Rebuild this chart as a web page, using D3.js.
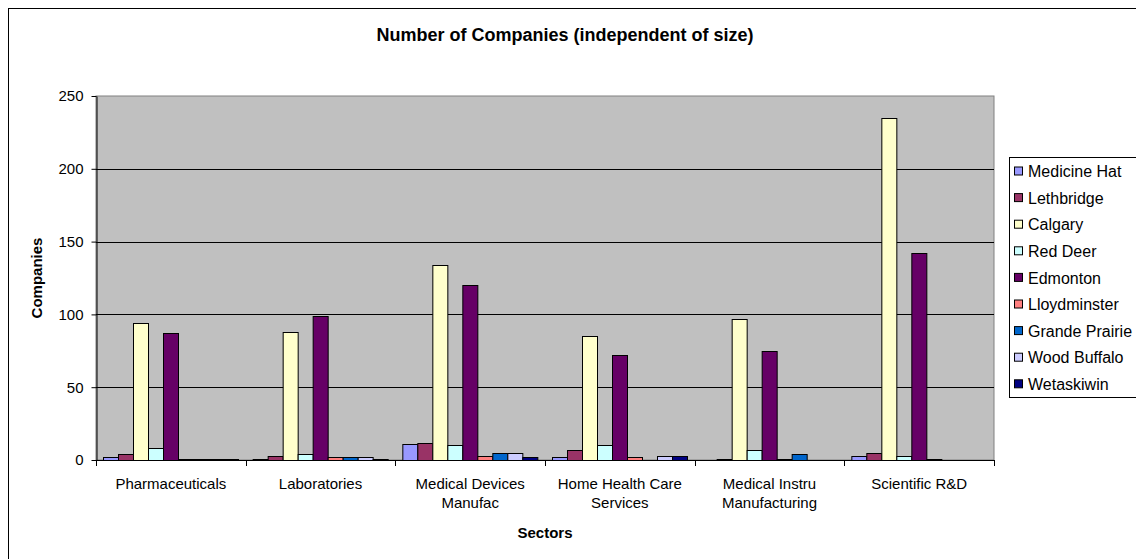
<!DOCTYPE html>
<html>
<head>
<meta charset="utf-8">
<script src="https://cdn.jsdelivr.net/npm/d3@7"></script>
<style>
  body { margin: 0; background: #fff; }
  svg { display: block; font-family: "Liberation Sans", Arial, sans-serif; }
</style>
</head>
<body>
<svg id="chart" width="1136" height="559"></svg>
<script>
// sectors on the x axis (second line after the \n)
const sectors = [
  'Pharmaceuticals',
  'Laboratories',
  'Medical Devices\nManufac',
  'Home Health Care\nServices',
  'Medical Instru\nManufacturing',
  'Scientific R&D'
];

const cities = [
  'Medicine Hat', 'Lethbridge', 'Calgary', 'Red Deer', 'Edmonton',
  'Lloydminster', 'Grande Prairie', 'Wood Buffalo', 'Wetaskiwin'
];

// companies per city, one value per sector
const medicineHat   = [2, 1, 11, 2, 0, 3];
const lethbridge    = [4, 3, 12, 7, 1, 5];
const calgary       = [94, 88, 134, 85, 97, 235];
const redDeer       = [8, 4, 10, 10, 7, 3];
const edmonton      = [87, 99, 120, 72, 75, 142];
const lloydminster  = [1, 2, 3, 2, 1, 1];
const grandePrairie = [1, 2, 5, 0, 4, 0];
const woodBuffalo   = [1, 2, 5, 3, 0, 0];
const wetaskiwin    = [1, 1, 2, 3, 0, 0];

const yTicks = [0, 50, 100, 150, 200, 250];

const seriesValues = [medicineHat, lethbridge, calgary, redDeer, edmonton,
  lloydminster, grandePrairie, woodBuffalo, wetaskiwin];

const colors = ['#9999FF', '#993366', '#FFFFCC', '#CCFFFF', '#660066',
  '#FF8080', '#0066CC', '#CCCCFF', '#000080'];

const svg = d3.select('#chart');
const plot = { left: 96, top: 96, right: 994, bottom: 460 };

// outer chart frame (runs off the picture on the right and bottom)
svg.append('rect')
  .attr('x', 8.5).attr('y', 8.5)
  .attr('width', 1160).attr('height', 600)
  .attr('fill', '#fff').attr('stroke', '#000');

const x0 = d3.scaleBand()
  .domain(sectors)
  .range([plot.left, plot.right])
  .paddingInner(0).paddingOuter(0);

// 100% gap width: half a bar of space on each side of a group
const x1 = d3.scaleBand()
  .domain(cities)
  .range([0, x0.bandwidth()])
  .paddingInner(0).paddingOuter(0.5);

const y = d3.scaleLinear()
  .domain([0, 250])
  .range([plot.bottom, plot.top]);

const color = d3.scaleOrdinal().domain(cities).range(colors);

// plot area
svg.append('rect')
  .attr('x', plot.left).attr('y', plot.top)
  .attr('width', plot.right - plot.left)
  .attr('height', plot.bottom - plot.top)
  .attr('fill', '#C0C0C0')
  .attr('stroke', '#808080');

// gridlines
svg.append('g')
  .selectAll('line')
  .data(yTicks.filter(t => t > 0 && t < 250))
  .enter().append('line')
  .attr('x1', plot.left).attr('x2', plot.right)
  .attr('y1', d => Math.round(y(d)) + 0.5)
  .attr('y2', d => Math.round(y(d)) + 0.5)
  .attr('stroke', '#000');

// bars
const rows = sectors.map((s, i) => ({
  sector: s,
  values: cities.map((c, j) => ({ city: c, value: seriesValues[j][i] }))
}));

const groups = svg.append('g')
  .selectAll('g')
  .data(rows)
  .enter().append('g')
  .attr('transform', d => `translate(${x0(d.sector)},0)`);

groups.selectAll('rect')
  .data(d => d.values.filter(v => v.value > 0))
  .enter().append('rect')
  .attr('x', d => Math.round(x1(d.city)) + 0.5)
  .attr('y', d => Math.round(y(d.value)) + 0.5)
  .attr('width', Math.round(x1.bandwidth()))
  .attr('height', d => Math.round(y(0)) - Math.round(y(d.value)))
  .attr('fill', d => color(d.city))
  .attr('stroke', '#000')
  .attr('stroke-width', 1);

// y axis
const yAxis = svg.append('g')
  .attr('transform', `translate(${plot.left + 0.5},0)`)
  .call(d3.axisLeft(y).tickValues(yTicks).tickSize(5).tickPadding(8)
    .tickSizeOuter(0));
yAxis.select('.domain').attr('stroke', '#000');
yAxis.selectAll('.tick line').attr('stroke', '#000');
yAxis.selectAll('.tick text')
  .attr('font-size', 15).attr('fill', '#000')
  .attr('font-family', '"Liberation Sans", Arial, sans-serif');

// x axis: ticks sit on group boundaries
const boundaries = sectors.map(s => x0(s)).concat([plot.right]);
svg.append('line')
  .attr('x1', plot.left).attr('x2', plot.right)
  .attr('y1', plot.bottom + 0.5).attr('y2', plot.bottom + 0.5)
  .attr('stroke', '#000');
svg.append('g')
  .selectAll('line')
  .data(boundaries)
  .enter().append('line')
  .attr('x1', d => Math.round(d) + 0.5).attr('x2', d => Math.round(d) + 0.5)
  .attr('y1', plot.bottom).attr('y2', plot.bottom + 6)
  .attr('stroke', '#000');

const xLabels = svg.append('g')
  .selectAll('text')
  .data(sectors)
  .enter().append('text')
  .attr('x', d => x0(d) + x0.bandwidth() / 2)
  .attr('y', 489)
  .attr('text-anchor', 'middle')
  .attr('font-size', 15)
  .attr('fill', '#000');
xLabels.selectAll('tspan')
  .data(d => d.split('\n'))
  .enter().append('tspan')
  .attr('x', function() { return this.parentNode.getAttribute('x'); })
  .attr('dy', (d, i) => i === 0 ? 0 : 19)
  .text(d => d);

// titles
svg.append('text')
  .attr('x', 565).attr('y', 41)
  .attr('text-anchor', 'middle')
  .attr('font-size', 18).attr('font-weight', 'bold')
  .text('Number of Companies (independent of size)');

svg.append('text')
  .attr('x', (plot.left + plot.right) / 2).attr('y', 538)
  .attr('text-anchor', 'middle')
  .attr('font-size', 15).attr('font-weight', 'bold')
  .text('Sectors');

svg.append('text')
  .attr('transform', `translate(42,${(plot.top + plot.bottom) / 2}) rotate(-90)`)
  .attr('text-anchor', 'middle')
  .attr('font-size', 15).attr('font-weight', 'bold')
  .text('Companies');

// legend
const legend = svg.append('g');
legend.append('rect')
  .attr('x', 1009.5).attr('y', 157.5)
  .attr('width', 160).attr('height', 240)
  .attr('fill', '#fff').attr('stroke', '#000');

const items = legend.selectAll('g.item')
  .data(cities)
  .enter().append('g')
  .attr('class', 'item')
  .attr('transform', (d, i) => `translate(0,${171.5 + i * 26.6})`);

items.append('rect')
  .attr('x', 1014.5).attr('y', -4.5)
  .attr('width', 8).attr('height', 8)
  .attr('fill', d => color(d))
  .attr('stroke', '#000');

items.append('text')
  .attr('x', 1028).attr('y', 0)
  .attr('dy', '0.35em')
  .attr('font-size', 16)
  .text(d => d);
</script>
</body>
</html>
